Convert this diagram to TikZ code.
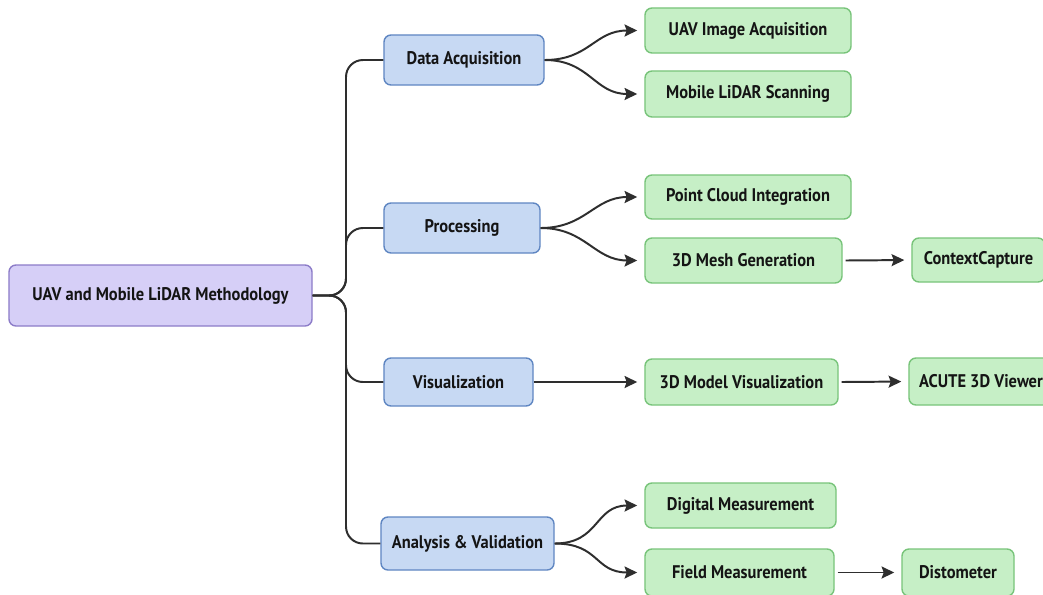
\documentclass[tikz,border=0pt]{standalone}
\usepackage{fontspec}
\setmainfont{PT Sans}[FakeStretch=0.9]
\usetikzlibrary{arrows.meta}
\definecolor{rootfill}{HTML}{D6CFF7}
\definecolor{rootdraw}{HTML}{8C7CC8}
\definecolor{bluefill}{HTML}{C7D9F3}
\definecolor{bluedraw}{HTML}{5F86C2}
\definecolor{greenfill}{HTML}{C6EFC6}
\definecolor{greendraw}{HTML}{78C47A}
\definecolor{linkcol}{HTML}{2E2E2E}
\tikzset{
  box/.style={rectangle, rounded corners=5pt, line width=1pt, inner sep=0pt,
    font=\bfseries\fontsize{13}{15}\selectfont, text=black!92},
  rootbox/.style={box, fill=rootfill, draw=rootdraw},
  stagebox/.style={box, fill=bluefill, draw=bluedraw},
  leafbox/.style={box, fill=greenfill, draw=greendraw},
  trunk/.style={draw=linkcol, line width=1.4pt, rounded corners=12pt},
  link/.style={draw=linkcol, line width=1.4pt, -{Stealth[length=9pt,width=8.5pt,inset=1.5pt]}, shorten >=5pt},
}
\begin{document}
\begin{tikzpicture}[x=0.025cm, y=-0.025cm]
\useasboundingbox (0,0) rectangle (1043,594);
\clip (0,0) rectangle (1043,594);
\fill[white] (0,0) rectangle (1043,594);

% root
\node[rootbox, minimum width=7.575cm, minimum height=1.525cm] (root) at (160.5,295.5) {UAV and Mobile LiDAR Methodology};

% stages
\node[stagebox, minimum width=4.0cm, minimum height=1.25cm] (acq) at (464,60) {Data Acquisition};
\node[stagebox, minimum width=3.9cm, minimum height=1.25cm] (proc) at (462,228) {Processing};
\node[stagebox, minimum width=3.725cm, minimum height=1.2cm] (vis) at (458.5,382) {Visualization};
\node[stagebox, minimum width=4.325cm, minimum height=1.325cm] (ana) at (467.5,543.5) {Analysis \& Validation};

% leaves
\node[leafbox, minimum width=5.15cm, minimum height=1.125cm] (uav) at (748,30.5) {UAV Image Acquisition};
\node[leafbox, minimum width=5.15cm, minimum height=1.15cm] (mls) at (748,94) {Mobile LiDAR Scanning};
\node[leafbox, minimum width=5.15cm, minimum height=1.1cm] (pci) at (748,197) {Point Cloud Integration};
\node[leafbox, minimum width=4.925cm, minimum height=1.125cm] (mesh) at (743.5,260.5) {3D Mesh Generation};
\node[leafbox, minimum width=3.325cm, minimum height=1.1cm] (cc) at (978.5,260) {ContextCapture};
\node[leafbox, minimum width=4.825cm, minimum height=1.15cm] (mvis) at (741.5,382) {3D Model Visualization};
\node[leafbox, minimum width=3.6cm, minimum height=1.175cm] (acute) at (981,381.5) {ACUTE 3D Viewer};
\node[leafbox, minimum width=4.775cm, minimum height=1.125cm] (dig) at (740.5,505.5) {Digital Measurement};
\node[leafbox, minimum width=4.725cm, minimum height=1.175cm] (field) at (739.5,572.5) {Field Measurement};
\node[leafbox, minimum width=2.8cm, minimum height=1.175cm] (dist) at (958,572.5) {Distometer};

% trunk from the root to each stage
\foreach \s in {acq,proc,vis,ana}
  \path[trunk] (root.east) -- (346,295.5) |- (\s.west);

% stage to leaf branches
\draw[link] (acq.east) .. controls +(45,0) and +(-50,0) .. (uav.west);
\draw[link] (acq.east) .. controls +(45,0) and +(-50,0) .. (mls.west);
\draw[link] (proc.east) .. controls +(45,0) and +(-50,0) .. (pci.west);
\draw[link] (proc.east) .. controls +(45,0) and +(-50,0) .. (mesh.west);
\draw[link] (vis.east) -- (mvis.west);
\draw[link] (ana.east) .. controls +(45,0) and +(-50,0) .. (dig.west);
\draw[link] (ana.east) .. controls +(45,0) and +(-50,0) .. (field.west);

% tool links
\draw[link] (mesh.east) ++(3,0) -- (cc.west);
\draw[link] (mvis.east) ++(3,0) -- (acute.west);
\draw[link] (field.east) ++(3,0) -- (dist.west);
\end{tikzpicture}
\end{document}
